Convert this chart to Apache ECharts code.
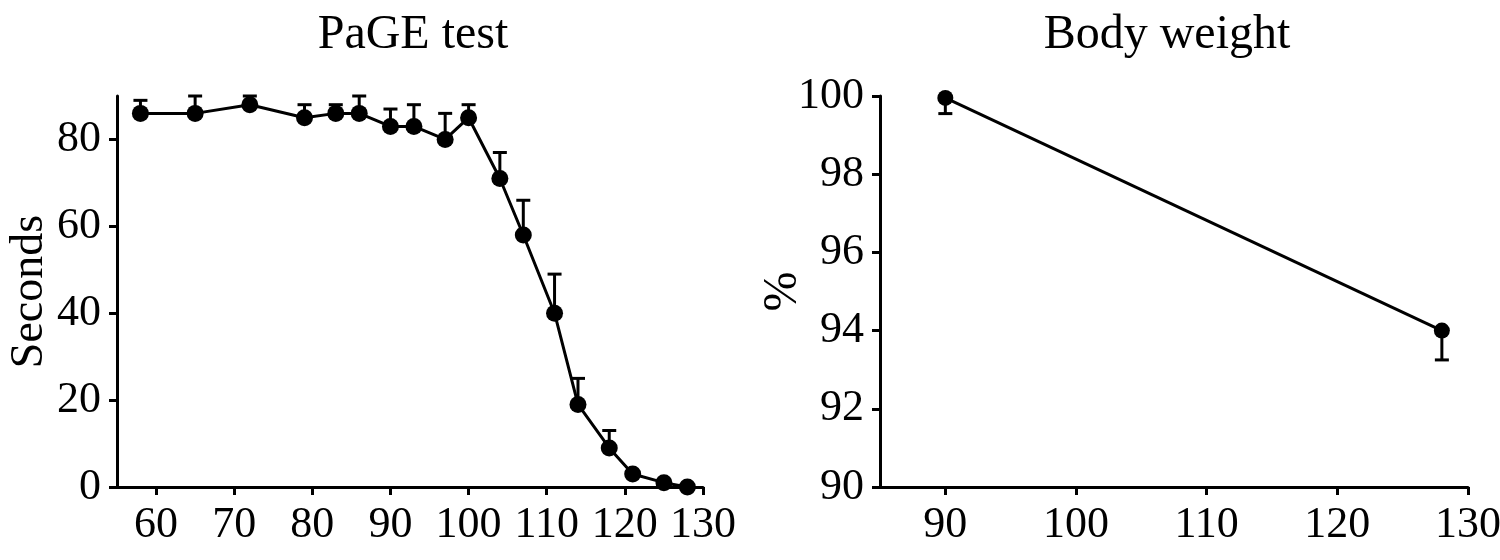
<!DOCTYPE html>
<html><head><meta charset="utf-8">
<script src="https://cdn.jsdelivr.net/npm/echarts@6/dist/echarts.min.js"></script>
<style>html,body{margin:0;background:#fff}#c{width:1500px;height:560px}</style></head>
<body><div id="c"></div><script>
// PaGE test
const pageTitle = 'PaGE test';
const pageYName = 'Seconds';
const pageX = [58, 65, 72, 79, 83, 86, 90, 93, 97, 100, 104, 107, 111, 114, 118, 121, 125, 128];
const pageMean = [86, 86, 88, 85, 86, 86, 83, 83, 80, 85, 71, 58, 40, 19, 9, 3, 1, 0];
const pageErr = [3, 4, 2, 3, 2, 4, 4, 5, 6, 3, 6, 8, 9, 6, 4, 0, 0, 0];
const pageXTicks = [60, 70, 80, 90, 100, 110, 120, 130];
const pageYTicks = [0, 20, 40, 60, 80];
// Body weight
const bwTitle = 'Body weight';
const bwYName = '%';
const bwX = [90, 128];
const bwMean = [99.95, 94.0];
const bwErr = [0.4, 0.75];
const bwXTicks = [90, 100, 110, 120, 130];
const bwYTicks = [90, 92, 94, 96, 98, 100];

const FONT = 'Liberation Serif';
const BLACK = '#000';

function errRender(dir) {
  return function (params, api) {
    const x = api.value(0), m = api.value(1), e = api.value(2);
    if (!e) return null;
    const p0 = api.coord([x, m]);
    const p1 = api.coord([x, m + dir * e]);
    const hw = 7;
    const st = { stroke: BLACK, lineWidth: 3 };
    return {
      type: 'group',
      children: [
        { type: 'line', shape: { x1: p0[0], y1: p0[1], x2: p1[0], y2: p1[1] }, style: st },
        { type: 'line', shape: { x1: p1[0] - hw, y1: p1[1], x2: p1[0] + hw, y2: p1[1] }, style: st }
      ]
    };
  };
}

function valAxis(gi, min, max, ticks, extra) {
  return Object.assign({
    type: 'value', gridIndex: gi, min: min, max: max,
    axisLine: { show: true, lineStyle: { color: BLACK, width: 3 } },
    axisTick: { show: true, inside: false, length: 8, lineStyle: { color: BLACK, width: 3 }, customValues: ticks },
    axisLabel: { show: true, customValues: ticks, color: BLACK, fontFamily: FONT, fontSize: 44, margin: 16 },
    splitLine: { show: false }
  }, extra || {});
}

const chart = echarts.init(document.getElementById('c'), null, { renderer: 'canvas' });
chart.setOption({
  backgroundColor: '#fff',
  animation: false,
  title: [
    { text: pageTitle, left: 408, top: 6, textAlign: 'center', textStyle: { fontFamily: FONT, fontSize: 48, fontWeight: 'normal', color: BLACK } },
    { text: bwTitle, left: 1162, top: 6, textAlign: 'center', textStyle: { fontFamily: FONT, fontSize: 48, fontWeight: 'normal', color: BLACK } }
  ],
  grid: [
    { left: 117, right: 797, top: 96, bottom: 73, containLabel: false, outerBoundsMode: 'none' },
    { left: 880, right: 32, top: 96, bottom: 73, containLabel: false, outerBoundsMode: 'none' }
  ],
  xAxis: [
    valAxis(0, 55, 130, pageXTicks),
    valAxis(1, 85, 130, bwXTicks)
  ],
  yAxis: [
    valAxis(0, 0, 90, pageYTicks, { name: pageYName, nameLocation: 'middle', nameRotate: 90, nameGap: 64,
      nameTextStyle: { fontFamily: FONT, fontSize: 46, color: BLACK } }),
    valAxis(1, 90, 100, bwYTicks, { name: bwYName, nameLocation: 'middle', nameRotate: 90, nameGap: 73,
      nameMoveOverlap: false,
      nameTextStyle: { fontFamily: FONT, fontSize: 48, color: BLACK } })
  ],
  series: [
    { type: 'custom', xAxisIndex: 0, yAxisIndex: 0, z: 1, renderItem: errRender(1),
      data: pageX.map((x, i) => [x, pageMean[i], pageErr[i]]) },
    { type: 'line', xAxisIndex: 0, yAxisIndex: 0, z: 2, symbol: 'circle', symbolSize: 17,
      itemStyle: { color: BLACK }, lineStyle: { color: BLACK, width: 3 },
      data: pageX.map((x, i) => [x, pageMean[i]]) },
    { type: 'custom', xAxisIndex: 1, yAxisIndex: 1, z: 1, renderItem: errRender(-1),
      data: bwX.map((x, i) => [x, bwMean[i], bwErr[i]]) },
    { type: 'line', xAxisIndex: 1, yAxisIndex: 1, z: 2, symbol: 'circle', symbolSize: 16,
      itemStyle: { color: BLACK }, lineStyle: { color: BLACK, width: 3 },
      data: bwX.map((x, i) => [x, bwMean[i]]) }
  ]
});
</script></body></html>
